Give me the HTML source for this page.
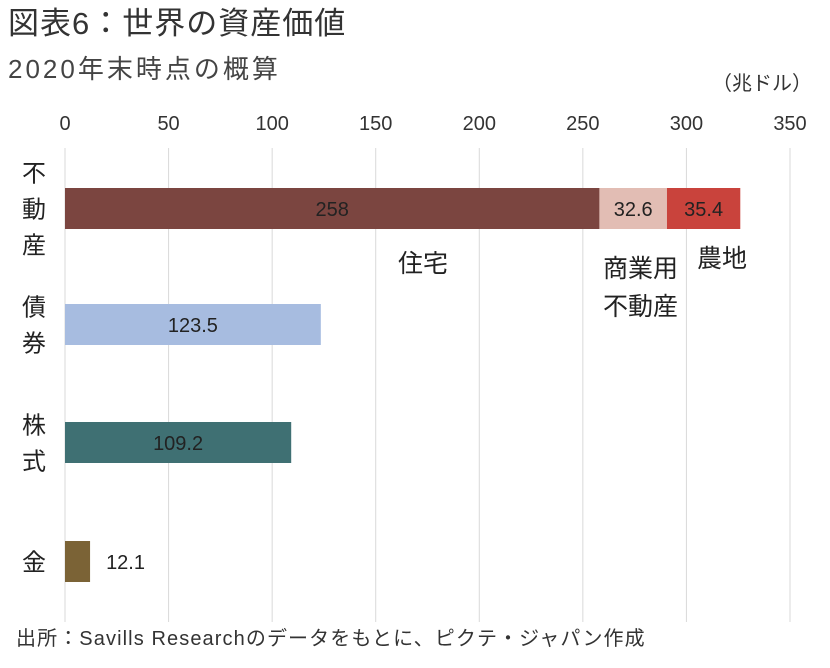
<!DOCTYPE html>
<html><head><meta charset="utf-8"><style>
body{margin:0;background:#fff;width:830px;height:663px;overflow:hidden;font-family:"Liberation Sans","Noto Sans CJK JP",sans-serif;}
svg text{font-family:"Liberation Sans","Noto Sans CJK JP",sans-serif;}
</style></head><body>
<svg width="830" height="663">
<text x="8" y="34" font-size="31" letter-spacing="1" fill="#333">図表6：世界の資産価値</text>
<text x="8" y="78" font-size="26" letter-spacing="3" fill="#444">2020年末時点の概算</text>
<text x="812" y="90" font-size="20" fill="#333" text-anchor="end">（兆ドル）</text>
<g id="grid"></g><g id="bars"></g><g id="labels"></g>
<text x="16" y="645" font-size="20" letter-spacing="1.1" fill="#333">出所：Savills Researchのデータをもとに、ピクテ・ジャパン作成</text>
</svg>
<script>
const ticks=[0,50,100,150,200,250,300,350];
const categories=["不動産","債券","株式","金"];
const segLabels=["住宅","商業用不動産","農地"];
const realEstate=[258,32.6,35.4];
const others=[123.5,109.2,12.1];
const NS="http://www.w3.org/2000/svg";
const x=v=>65+v*(725/350);
const rowY=[188,304,422,541];
const barH=41;
function el(t,a,p,txt){const e=document.createElementNS(NS,t);for(const k in a)e.setAttribute(k,a[k]);if(txt!==undefined)e.textContent=txt;document.getElementById(p).appendChild(e);return e;}
ticks.forEach(t=>{
 const l=el('line',{x1:x(t),x2:x(t),y1:148,y2:622,stroke:'#d9d9d9','stroke-width':1},'grid');
 
 
 const tx=el('text',{x:x(t),y:130,'font-size':20,fill:'#333','text-anchor':'middle'},'grid',String(t));
 
 
});
const reColors=['#7b4540','#e2bdb4','#c9433c'];
let acc=0;
realEstate.forEach((v,i)=>{
 const r=el('rect',{x:x(acc),y:rowY[0],width:x(acc+v)-x(acc),height:barH,fill:reColors[i]},'bars');
 
 
 const t=el('text',{x:(x(acc)+x(acc+v))/2,y:rowY[0]+28,'font-size':20,fill:'#222','text-anchor':'middle'},'labels',String(v));
 
 
 acc+=v;
});
const s1=el('text',{x:398,y:272,'font-size':25,fill:'#222'},'labels',segLabels[0]);

const s2=el('text',{x:603,y:277,'font-size':25,fill:'#222'},'labels','商業用');

const s2b=el('text',{x:603,y:315,'font-size':25,fill:'#222'},'labels','不動産');

const s3=el('text',{x:697,y:267,'font-size':25,fill:'#222'},'labels',segLabels[2]);

const oColors=['#a7bce0','#3f7073','#7b6336'];
others.forEach((v,i)=>{
 const y=rowY[i+1];
 const r=el('rect',{x:x(0),y:y,width:x(v)-x(0),height:barH,fill:oColors[i]},'bars');
 
 
 const inside=v>40;
 const t=el('text',{x:inside?(x(0)+x(v))/2:x(v)+16,y:y+28,'font-size':20,fill:'#222','text-anchor':inside?'middle':'start'},'labels',String(v));
 
 
});
categories.forEach((c,i)=>{
 const chars=[...c];const cy=rowY[i]+barH/2;const lh=36;
 const start=cy-(chars.length-1)*lh/2;
 chars.forEach((ch,j)=>{
  const t=el('text',{x:34,y:start+j*lh+9,'font-size':24,fill:'#222','text-anchor':'middle'},'labels',ch);
  
  
 });
});
</script>
</body></html>
